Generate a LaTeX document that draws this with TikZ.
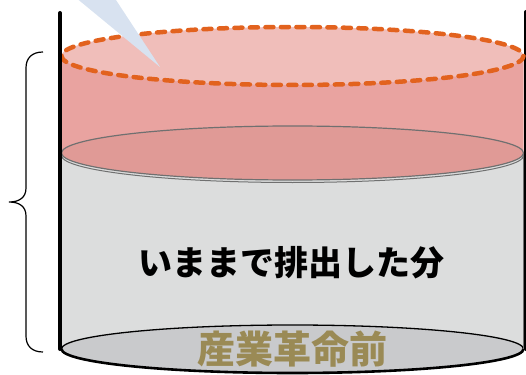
\documentclass[tikz,border=0pt]{standalone}
\usepackage{fontspec}
\newfontfamily\jp{Noto Sans CJK JP}
\definecolor{topfill}{HTML}{F0BEBA}
\definecolor{bandfill}{HTML}{E9A3A0}
\definecolor{midfill}{HTML}{E09A96}
\definecolor{bodyfill}{HTML}{DCDDDD}
\definecolor{basefill}{HTML}{C9CACC}
\definecolor{dashor}{HTML}{E2621E}
\definecolor{calloutblue}{HTML}{D8E2F0}
\definecolor{olive}{HTML}{9A8A55}
\definecolor{edgegray}{HTML}{707070}
\tikzset{
  wall/.style={line width=4pt, line cap=round},
  dashring/.style={draw=dashor, line width=4.5pt, line cap=round, dash pattern=on 8pt off 7.5pt},
  bracestyle/.style={line width=1.2pt},
  bigtext/.style={font=\jp\bfseries\fontsize{34}{40}\selectfont, inner sep=0pt},
  basetext/.style={font=\jp\bfseries\fontsize{38}{44}\selectfont, inner sep=0pt, text=olive}
}
\begin{document}
\begin{tikzpicture}[x=1pt,y=-1pt]
\useasboundingbox (0,0) rectangle (526,374);
% right wall (mostly off the edge)
\draw[wall] (526,12) -- (526,349);
% gray body
\fill[bodyfill] (61.5,153) -- (61.5,349) arc[start angle=180,end angle=360,x radius=231pt,y radius=24pt] -- (523.5,153) -- cycle;
% base ellipse
\coordinate (bc) at (292.5,349);
\fill[basefill] (bc) ellipse [x radius=231, y radius=24];
\draw[line width=1.3pt] (61.5,349) arc[start angle=180,end angle=0,x radius=231pt,y radius=24pt];
\draw[line width=2.6pt] (61.5,349) arc[start angle=180,end angle=360,x radius=231pt,y radius=24pt];
\draw[edgegray, line width=1pt] (523.5,153) -- (523.5,349);
% pink band
\fill[bandfill] (61.5,56) -- (61.5,153) arc[start angle=180,end angle=360,x radius=231pt,y radius=27pt] -- (523.5,56) -- cycle;
% middle surface
\draw[edgegray, line width=1pt] (61.5,155.5) arc[start angle=180,end angle=360,x radius=231pt,y radius=27pt];
\coordinate (mc) at (292.5,153);
\filldraw[fill=midfill, draw=edgegray, line width=1.2pt] (mc) ellipse [x radius=231, y radius=27];
% top dashed surface
\coordinate (tc) at (292.5,56);
\fill[topfill] (tc) ellipse [x radius=231, y radius=29];
\draw[dashring] (tc) ellipse [x radius=231, y radius=29];
% left wall
\draw[wall] (60,13) -- (60,349);
% callout pointer
\coordinate (tip) at (160,67);
\fill[calloutblue] (75,-3) -- (tip) -- (114,-3) -- cycle;
% brace
\draw[bracestyle] (43,52) .. controls (32,52) and (26,58) .. (26,68) -- (26,188) .. controls (26,197) and (20,202) .. (9,202) .. controls (20,202) and (26,207) .. (26,216) -- (26,336) .. controls (26,346) and (32,352) .. (43,352);
% texts
\node[bigtext] (amount) at (291,263) {いままで排出した分};
\node[basetext] (pre) at (292,349) {産業革命前};
\end{tikzpicture}
\end{document}
